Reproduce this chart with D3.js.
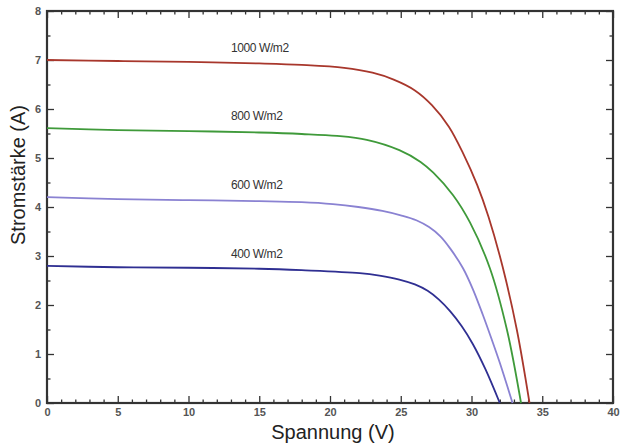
<!DOCTYPE html>
<html>
<head>
<meta charset="utf-8">
<script src="https://cdn.jsdelivr.net/npm/d3@7"></script>
<style>
  html, body { margin: 0; padding: 0; background: #fff; }
  svg { display: block; }
  .tick-label text { font-family: "Liberation Sans Narrow", "Liberation Sans", Arial, sans-serif; font-weight: bold; font-size: 11px; fill: #555; }
  .title { font-family: "Liberation Sans", Arial, sans-serif; font-size: 20px; fill: #222; }
  .curve-label { font-family: "Liberation Sans", Arial, sans-serif; font-size: 12px; fill: #333; letter-spacing: -0.4px; }
</style>
</head>
<body>
<svg id="chart" width="624" height="443"></svg>
<script>
// Kennlinien bei verschiedenen Einstrahlungen
const labels = ['1000 W/m2', '800 W/m2', '600 W/m2', '400 W/m2'];
const colors = ['#a8372c', '#3f9a3a', '#8a82d2', '#2f2f92'];

const volt1000 = [0, 5, 10, 15, 18, 21, 23, 24.5, 26, 27.2, 28.4, 29.4, 30.4, 31.2, 32.2, 33.2, 34.1];
const amp1000  = [7.0, 6.98, 6.96, 6.93, 6.9, 6.84, 6.74, 6.6, 6.38, 6.08, 5.64, 5.1, 4.45, 3.8, 2.78, 1.5, 0];

const volt800 = [0, 5, 10, 15, 18, 20.5, 22.6, 24.9, 26.4, 27.3, 28.7, 29.9, 31.3, 32.5, 33.5];
const amp800  = [5.61, 5.57, 5.55, 5.52, 5.49, 5.45, 5.37, 5.16, 4.92, 4.7, 4.24, 3.68, 2.75, 1.5, 0];

const volt600 = [0, 5, 10, 15, 18, 20.2, 22, 23.7, 25, 26.1, 27.0, 27.8, 28.5, 29.4, 30.1, 30.8, 31.4, 32.0, 32.9];
const amp600  = [4.2, 4.16, 4.14, 4.12, 4.1, 4.06, 4.0, 3.92, 3.83, 3.73, 3.59, 3.4, 3.15, 2.75, 2.32, 1.8, 1.32, 0.82, 0];

const volt400 = [0, 5, 10, 15, 18, 22.1, 23.5, 24.9, 26, 26.9, 27.7, 28.5, 29.3, 30.1, 31.0, 32.0];
const amp400  = [2.8, 2.77, 2.76, 2.74, 2.71, 2.65, 2.6, 2.52, 2.42, 2.29, 2.11, 1.87, 1.57, 1.2, 0.68, 0];

const xMajor = [0, 5, 10, 15, 20, 25, 30, 35, 40];
const yMajor = [0, 1, 2, 3, 4, 5, 6, 7, 8];

const series = [
  { v: volt1000, i: amp1000 },
  { v: volt800, i: amp800 },
  { v: volt600, i: amp600 },
  { v: volt400, i: amp400 }
];

const width = 624, height = 443;
const margin = { top: 11, right: 11, bottom: 40, left: 47 };
const w = width - margin.left - margin.right;
const h = height - margin.top - margin.bottom;

const svg = d3.select('#chart');
const g = svg.append('g').attr('transform', `translate(${margin.left},${margin.top})`);

const x = d3.scaleLinear().domain([0, 40]).range([0, w]);
const y = d3.scaleLinear().domain([0, 8]).range([h, 0]);

const xMinor = d3.range(0, 41, 1).filter(d => d % 5 !== 0);
const yMinor = d3.range(0.5, 8, 1);

function styleAxis(sel) {
  sel.select('.domain').remove();
  sel.selectAll('line').attr('stroke', '#333').attr('stroke-width', 1.3);
}

// unten
g.append('g').attr('class', 'tick-label').attr('transform', `translate(0,${h})`)
  .call(d3.axisBottom(x).tickValues(xMajor).tickSize(-7).tickPadding(5))
  .call(styleAxis);
g.append('g').attr('transform', `translate(0,${h})`)
  .call(d3.axisBottom(x).tickValues(xMinor).tickSize(-3.5).tickFormat(''))
  .call(styleAxis);
// oben
g.append('g')
  .call(d3.axisTop(x).tickValues(xMajor).tickSize(-7).tickFormat(''))
  .call(styleAxis);
g.append('g')
  .call(d3.axisTop(x).tickValues(xMinor).tickSize(-3.5).tickFormat(''))
  .call(styleAxis);
// links
g.append('g').attr('class', 'tick-label')
  .call(d3.axisLeft(y).tickValues(yMajor).tickSize(-7).tickPadding(6))
  .call(styleAxis);
g.append('g')
  .call(d3.axisLeft(y).tickValues(yMinor).tickSize(-3.5).tickFormat(''))
  .call(styleAxis);
// rechts
g.append('g').attr('transform', `translate(${w},0)`)
  .call(d3.axisRight(y).tickValues(yMajor).tickSize(-7).tickFormat(''))
  .call(styleAxis);
g.append('g').attr('transform', `translate(${w},0)`)
  .call(d3.axisRight(y).tickValues(yMinor).tickSize(-3.5).tickFormat(''))
  .call(styleAxis);

g.append('rect')
  .attr('x', 0).attr('y', 0).attr('width', w).attr('height', h)
  .attr('fill', 'none').attr('stroke', '#333').attr('stroke-width', 2.2);

const line = d3.line()
  .x(d => x(d[0]))
  .y(d => y(d[1]))
  .curve(d3.curveCatmullRom.alpha(0.5));

series.forEach((s, k) => {
  const pts = s.v.map((v, j) => [v, s.i[j]]);
  g.append('path')
    .datum(pts)
    .attr('fill', 'none')
    .attr('stroke', colors[k])
    .attr('stroke-width', 1.8)
    .attr('d', line);

  g.append('text')
    .attr('class', 'curve-label')
    .attr('x', x(13))
    .attr('y', y(s.i[0] + 0.16))
    .text(labels[k]);
});

svg.append('text')
  .attr('class', 'title')
  .attr('text-anchor', 'middle')
  .attr('x', margin.left + x(20) + 3)
  .attr('y', 439)
  .text('Spannung (V)');

svg.append('text')
  .attr('class', 'title')
  .attr('text-anchor', 'middle')
  .attr('transform', `translate(25,175) rotate(-90)`)
  .text('Stromstärke (A)');
</script>
</body>
</html>
